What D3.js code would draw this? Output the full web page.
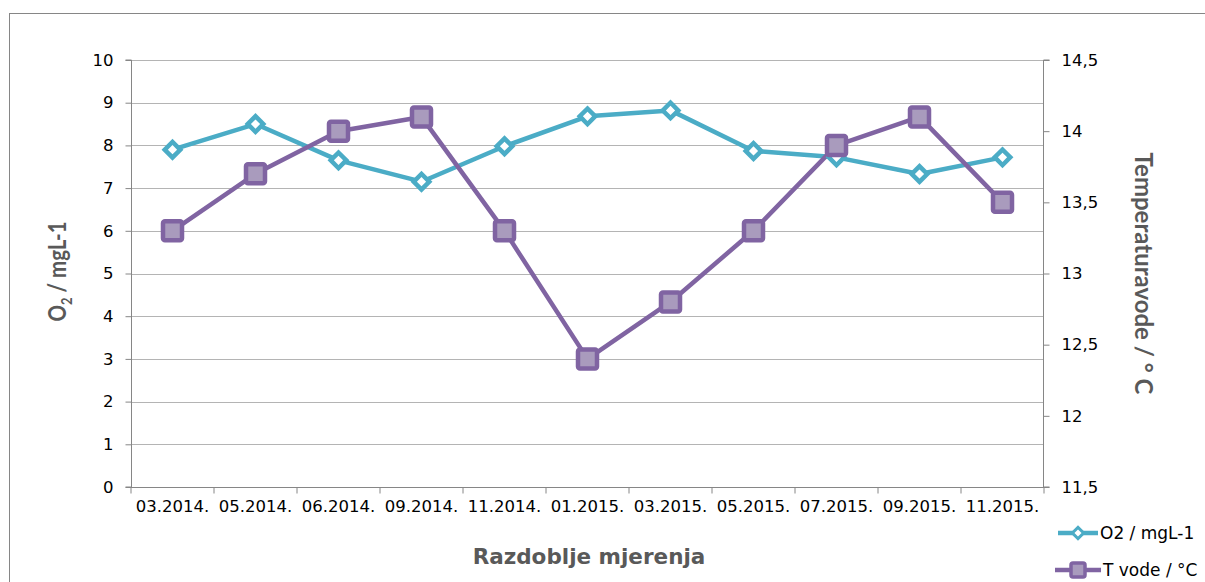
<!DOCTYPE html>
<html>
<head>
<meta charset="utf-8">
<script src="https://cdn.jsdelivr.net/npm/d3@7"></script>
<style>
  body { margin: 0; background: #fff; }
  svg { font-family: "DejaVu Sans", sans-serif; }
</style>
</head>
<body>
<div id="chart"></div>
<script>
// Chart data
const categories = ["03.2014.", "05.2014.", "06.2014.", "09.2014.", "11.2014.", "01.2015.",
    "03.2015.", "05.2015.", "07.2015.", "09.2015.", "11.2015."];
const o2Values = [7.9, 8.5, 7.65, 7.15, 7.98, 8.68, 8.82, 7.87, 7.72, 7.33, 7.72];
const tempValues = [13.3, 13.7, 14.0, 14.1, 13.3, 12.4, 12.8, 13.3, 13.9, 14.1, 13.5];
const leftTicks = [0, 1, 2, 3, 4, 5, 6, 7, 8, 9, 10];
const rightTicks = [11.5, 12, 12.5, 13, 13.5, 14, 14.5];

const width = 1205, height = 582;
const margin = { left: 131, right: 1044, top: 60, bottom: 487 };

const svg = d3.select("#chart").append("svg")
    .attr("width", width)
    .attr("height", height);

// outer frame
svg.append("rect")
    .attr("x", 9.5).attr("y", 13.5)
    .attr("width", 1210).attr("height", 600)
    .attr("fill", "none").attr("stroke", "#868686").attr("stroke-width", 1);

const x = d3.scaleBand().domain(categories).range([margin.left, margin.right]);
const yL = d3.scaleLinear().domain([0, 10]).range([margin.bottom, margin.top]);
const yR = d3.scaleLinear().domain([11.5, 14.5]).range([margin.bottom, margin.top]);

// gridlines
svg.append("g").selectAll("line")
    .data(leftTicks.slice(1))
    .enter().append("line")
    .attr("x1", margin.left).attr("x2", margin.right)
    .attr("y1", d => Math.round(yL(d)) + 0.5).attr("y2", d => Math.round(yL(d)) + 0.5)
    .attr("stroke", "#B4B4B4");

// left axis
const leftAxis = svg.append("g")
    .attr("transform", `translate(${margin.left + 0.5},0)`)
    .call(d3.axisLeft(yL).tickValues(leftTicks).tickSize(6).tickPadding(12));

// right axis
const rightAxis = svg.append("g")
    .attr("transform", `translate(${margin.right - 0.5},0)`)
    .call(d3.axisRight(yR).tickValues(rightTicks).tickSize(6).tickPadding(12)
        .tickFormat(d => String(d).replace(".", ",")));

// bottom axis
const bottomAxis = svg.append("g")
    .attr("transform", `translate(0,${Math.round(margin.bottom) + 0.5})`)
    .call(d3.axisBottom(x).tickSize(0).tickPadding(13));

bottomAxis.selectAll(".tick").append("line")
    .attr("x1", -x.bandwidth() / 2).attr("x2", -x.bandwidth() / 2)
    .attr("y1", 0).attr("y2", 6)
    .attr("stroke", "#868686");
bottomAxis.append("line")
    .attr("x1", margin.right).attr("x2", margin.right)
    .attr("y1", 0).attr("y2", 6)
    .attr("stroke", "#868686");

[leftAxis, rightAxis, bottomAxis].forEach(a => {
    a.select(".domain").attr("stroke", "#868686");
    a.selectAll(".tick line").attr("stroke", "#868686");
    a.selectAll("text").attr("fill", "#000")
        .style("font-family", "'DejaVu Sans', sans-serif").style("font-size", "16.5px");
});
leftAxis.select(".domain").attr("d", `M-6,${margin.bottom}H0V${margin.top}H-6`);
rightAxis.select(".domain").attr("d", `M6,${margin.bottom}H0V${margin.top}H6`);
bottomAxis.select(".domain").attr("d", `M${margin.left},0H${margin.right}`);

// lines
const cx = d => x(d) + x.bandwidth() / 2;

const o2Line = d3.line().x((d, i) => cx(categories[i])).y(d => yL(d));
const tLine = d3.line().x((d, i) => cx(categories[i])).y(d => yR(d));

svg.append("path").datum(o2Values)
    .attr("d", o2Line).attr("fill", "none")
    .attr("stroke", "#4BACC6").attr("stroke-width", 4.5).attr("stroke-linejoin", "round");

svg.append("path").datum(tempValues)
    .attr("d", tLine).attr("fill", "none")
    .attr("stroke", "#8064A2").attr("stroke-width", 4.5).attr("stroke-linejoin", "round");

// O2 markers (diamonds)
svg.append("g").selectAll("path")
    .data(o2Values).enter().append("path")
    .attr("transform", (d, i) => `translate(${cx(categories[i])},${yL(d)}) rotate(45)`)
    .attr("d", "M-5.5,-5.5H5.5V5.5H-5.5Z")
    .attr("fill", "#fff").attr("stroke", "#4BACC6").attr("stroke-width", 4.5);

// temperature markers (squares)
svg.append("g").selectAll("rect")
    .data(tempValues).enter().append("rect")
    .attr("x", (d, i) => cx(categories[i]) - 9.5)
    .attr("y", d => yR(d) - 9.5)
    .attr("width", 19).attr("height", 19).attr("rx", 2)
    .attr("fill", "#A99BBD").attr("stroke", "#8064A2").attr("stroke-width", 4.5);

// axis titles
const leftTitle = svg.append("text")
    .attr("transform", `translate(66,${(margin.top + margin.bottom) / 2 - 2}) rotate(-90) scale(1,1.18)`)
    .attr("text-anchor", "middle")
    .attr("fill", "#595959").style("font-family", "Lato, sans-serif")
    .style("font-size", "20.5px").style("font-weight", "bold");
leftTitle.append("tspan").text("O");
leftTitle.append("tspan").text("2").style("font-size", "13px").attr("dy", 5);
leftTitle.append("tspan").text(" / mgL-1").attr("dy", -5);

svg.append("text")
    .attr("transform", `translate(1135,${(margin.top + margin.bottom) / 2}) rotate(90)`)
    .attr("text-anchor", "middle")
    .attr("fill", "#595959").style("font-family", "Lato, sans-serif")
    .style("font-size", "24px").style("font-weight", "bold")
    .text("Temperaturavode / ° C");

svg.append("text")
    .attr("x", 589).attr("y", 564)
    .attr("text-anchor", "middle")
    .attr("fill", "#595959").style("font-size", "21.5px").style("font-weight", "bold")
    .text("Razdoblje mjerenja");

// legend
const legend = svg.append("g");
legend.append("line").attr("x1", 1058).attr("x2", 1098).attr("y1", 533).attr("y2", 533)
    .attr("stroke", "#4BACC6").attr("stroke-width", 4.5);
legend.append("path").attr("transform", "translate(1078,533) rotate(45)")
    .attr("d", "M-4,-4H4V4H-4Z")
    .attr("fill", "#fff").attr("stroke", "#4BACC6").attr("stroke-width", 3);
legend.append("text").attr("x", 1100).attr("y", 539)
    .style("font-size", "17px").attr("fill", "#000").text("O2 / mgL-1");

legend.append("line").attr("x1", 1055).attr("x2", 1101).attr("y1", 570).attr("y2", 570)
    .attr("stroke", "#8064A2").attr("stroke-width", 4.5);
legend.append("rect").attr("x", 1071).attr("y", 563).attr("width", 14).attr("height", 14).attr("rx", 2)
    .attr("fill", "#A99BBD").attr("stroke", "#8064A2").attr("stroke-width", 3.5);
legend.append("text").attr("x", 1103).attr("y", 576)
    .style("font-size", "17px").attr("fill", "#000").text("T vode / °C");
</script>
</body>
</html>
